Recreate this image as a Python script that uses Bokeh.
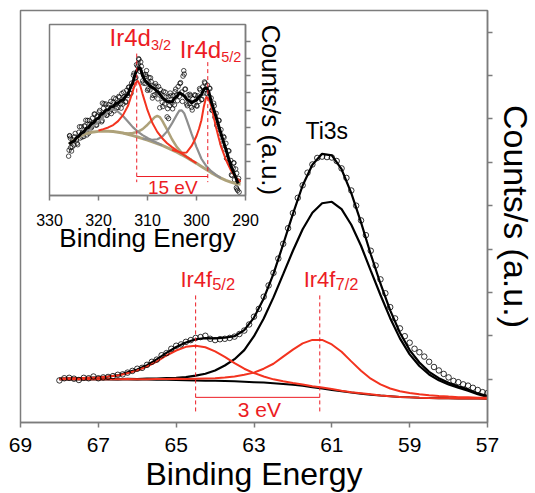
from bokeh.plotting import figure
from bokeh.models import Range1d, FixedTicker
from bokeh.embed import file_html
from bokeh.resources import INLINE
from bokeh.core.properties import value

FONT = "Liberation Sans"
AXIS_GRAY = "#7c7c7c"
RED = "#f3331f"
TEXT_RED = "#ec1c24"
KHAKI = "#aea27a"
GRAY = "#8e8e8e"

# ---------------- main chart data (Ir4f / Ti3s region) ----------------
main_xticks = [69, 67, 65, 63, 61, 59, 57]
main_yticks = [1, 2, 3, 4, 5, 6, 7, 8, 9]

main_x = [68.0, 67.75, 67.5, 67.25, 67.0, 66.75, 66.5, 66.25, 66.0, 65.75, 65.5, 65.25,
          65.0, 64.75, 64.5, 64.25, 64.0, 63.75, 63.5, 63.25, 63.0, 62.75, 62.5, 62.25,
          62.0, 61.75, 61.5, 61.25, 61.0, 60.75, 60.5, 60.25, 60.0, 59.75, 59.5, 59.25,
          59.0, 58.75, 58.5, 58.25, 58.0, 57.75, 57.5, 57.25, 57.0]
main_background = [1.00, 1.00, 1.00, 1.00, 1.00, 1.00, 0.995, 0.995, 0.99, 0.99, 0.985, 0.985,
                   0.98, 0.975, 0.97, 0.965, 0.96, 0.955, 0.95, 0.94, 0.93, 0.92, 0.905, 0.89,
                   0.87, 0.845, 0.815, 0.785, 0.75, 0.72, 0.69, 0.665, 0.64, 0.62, 0.605, 0.59,
                   0.58, 0.573, 0.567, 0.562, 0.558, 0.555, 0.553, 0.551, 0.55]
main_ti3s = [1.00, 1.00, 1.00, 1.00, 1.00, 1.00, 0.995, 1.005, 1.00, 1.01, 1.015, 1.025,
             1.03, 1.045, 1.08, 1.125, 1.20, 1.315, 1.46, 1.67, 1.99, 2.40, 2.885, 3.42,
             3.96, 4.455, 4.835, 5.055, 5.09, 4.92, 4.56, 4.075, 3.50, 2.94, 2.405, 1.94,
             1.57, 1.303, 1.107, 0.972, 0.878, 0.805, 0.733, 0.651, 0.59]
main_ir4f72 = [1.00, 1.00, 1.00, 1.00, 1.00, 1.00, 0.995, 1.005, 1.00, 1.00, 1.005, 1.005,
               1.01, 1.005, 1.01, 1.015, 1.02, 1.035, 1.06, 1.10, 1.15, 1.24, 1.355, 1.52,
               1.68, 1.825, 1.905, 1.905, 1.80, 1.63, 1.41, 1.195, 1.01, 0.88, 0.785, 0.72,
               0.68, 0.653, 0.627, 0.612, 0.598, 0.585, 0.583, 0.571, 0.57]
main_ir4f52 = [1.01, 1.02, 1.02, 1.03, 1.04, 1.06, 1.085, 1.135, 1.20, 1.29, 1.405, 1.545,
               1.66, 1.745, 1.77, 1.735, 1.64, 1.515, 1.37, 1.24, 1.14, 1.06, 0.995, 0.95,
               0.91, 0.875, 0.835, 0.805, 0.77, 0.73, 0.70, 0.675, 0.65, 0.62, 0.605, 0.59,
               0.58, 0.573, 0.567, 0.562, 0.558, 0.555, 0.553, 0.551, 0.55]
main_envelope = [1.01, 1.02, 1.02, 1.03, 1.04, 1.06, 1.085, 1.155, 1.22, 1.32, 1.455, 1.605,
                 1.74, 1.845, 1.92, 1.945, 1.94, 1.955, 1.99, 2.13, 2.42, 2.86, 3.425, 4.11,
                 4.81, 5.465, 5.945, 6.195, 6.16, 5.84, 5.29, 4.615, 3.88, 3.20, 2.585, 2.07,
                 1.67, 1.383, 1.167, 1.022, 0.918, 0.835, 0.763, 0.671, 0.61]

main_pts_x = [68.0, 67.875, 67.75, 67.625, 67.5, 67.375, 67.25, 67.125, 67.0, 66.875,
              66.75, 66.625, 66.5, 66.375, 66.25, 66.125, 66.0, 65.875, 65.75, 65.625,
              65.5, 65.375, 65.25, 65.125, 65.0, 64.875, 64.75, 64.625, 64.5, 64.375,
              64.25, 64.125, 64.0, 63.875, 63.75, 63.625, 63.5, 63.375, 63.25, 63.125,
              63.0, 62.875, 62.75, 62.625, 62.5, 62.375, 62.25, 62.125, 62.0, 61.875,
              61.75, 61.625, 61.5, 61.375, 61.25, 61.125, 61.0, 60.875, 60.75, 60.625,
              60.5, 60.375, 60.25, 60.125, 60.0, 59.875, 59.75, 59.625, 59.5, 59.375,
              59.25, 59.125, 59.0, 58.875, 58.75, 58.625, 58.5, 58.375, 58.25, 58.125,
              58.0, 57.875, 57.75, 57.625, 57.5, 57.375, 57.25, 57.125, 57.0]
main_pts_y = [0.97, 1.02, 1.03, 1.01, 0.98, 1.03, 1.02, 1.06, 1.02, 1.04,
              1.05, 1.07, 1.10, 1.11, 1.15, 1.19, 1.24, 1.26, 1.33, 1.40,
              1.45, 1.55, 1.60, 1.70, 1.77, 1.80, 1.86, 1.90, 1.95, 1.97,
              2.00, 1.93, 1.90, 1.92, 1.93, 1.95, 1.98, 2.04, 2.12, 2.26,
              2.44, 2.62, 2.90, 3.16, 3.45, 3.78, 4.12, 4.48, 4.83, 5.18,
              5.47, 5.76, 5.95, 6.10, 6.13, 6.12, 6.11, 6.03, 5.86, 5.64,
              5.35, 5.00, 4.66, 4.32, 3.96, 3.62, 3.30, 2.98, 2.66, 2.40,
              2.17, 1.99, 1.84, 1.70, 1.62, 1.52, 1.40, 1.28, 1.20, 1.12,
              1.04, 0.96, 0.93, 0.88, 0.85, 0.80, 0.75, 0.70, 0.68]

main_peak_pos = [64.5, 61.31]          # Ir4f5/2, Ir4f7/2
main_peak_names = ["Ir4f", "Ir4f"]
main_peak_subs = ["5/2", "7/2"]

# ---------------- inset data (Ir4d region) ----------------
inset_xticks = [330, 320, 310, 300, 290]
inset_yticks = [1, 2, 3, 4, 5, 6, 7, 8, 9]

inset_bg_x = [326, 325, 324, 323, 322, 321, 320, 319, 318, 317, 316, 315, 314, 313, 312, 311,
              310, 309, 308, 307, 306, 305, 304, 303, 302, 301, 300, 299, 298, 297, 296, 295,
              294, 293, 292, 291]
inset_bg = [3.0, 3.25, 3.45, 3.58, 3.66, 3.72, 3.75, 3.76, 3.76, 3.74, 3.70, 3.65, 3.58, 3.50,
            3.42, 3.33, 3.24, 3.14, 3.04, 2.93, 2.80, 2.67, 2.53, 2.38, 2.22, 2.05, 1.88, 1.70,
            1.52, 1.34, 1.17, 1.02, 0.89, 0.78, 0.70, 0.66]

inset_gray1_x = [325, 324, 323, 322, 321, 320, 319, 318, 317.5, 317, 316, 315, 314, 313, 312,
                 311, 310, 309, 308, 307]
inset_gray1 = [3.27, 3.50, 3.68, 3.86, 4.07, 4.30, 4.61, 4.91, 5.0, 5.04, 4.90, 4.65, 4.33,
               4.00, 3.74, 3.53, 3.36, 3.20, 3.07, 2.94]

inset_gray2_x = [311, 310, 309, 308, 307, 306, 305, 304, 303.5, 303, 302.5, 302, 301, 300,
                 299, 298, 297, 296, 295]
inset_gray2 = [3.33, 3.29, 3.26, 3.29, 3.43, 3.75, 4.22, 4.73, 4.96, 4.98, 4.80, 4.42, 3.60,
               2.83, 2.15, 1.72, 1.42, 1.20, 1.02]

inset_khaki_x = [315, 314, 313, 312, 311, 310, 309, 308.5, 308, 307.5, 307, 306, 305, 304,
                 303, 302, 301]
inset_khaki = [3.65, 3.63, 3.65, 3.72, 3.88, 4.14, 4.44, 4.59, 4.66, 4.59, 4.38, 3.85, 3.29,
               2.83, 2.50, 2.27, 2.07]

inset_ir4d32_x = [320, 319, 318, 317, 316, 315, 314, 313, 312.5, 312, 311.5, 311, 310, 309,
                  308, 307, 306, 305, 304, 303, 302, 301, 300]
inset_ir4d32 = [3.80, 3.88, 3.98, 4.12, 4.35, 4.70, 5.23, 6.10, 6.56, 6.72, 6.43, 5.93, 4.99,
                4.24, 3.72, 3.35, 3.06, 2.83, 2.63, 2.44, 2.26, 2.07, 1.89]

inset_ir4d52_x = [305, 304, 303, 302, 301, 300.5, 300, 299.5, 299, 298.5, 298, 297.5, 297,
                  296.5, 296, 295.5, 295, 294, 293, 292, 291]
inset_ir4d52 = [2.67, 2.58, 2.50, 2.52, 2.90, 3.17, 3.48, 3.89, 4.40, 5.21, 5.77, 5.63, 5.24,
                4.61, 3.97, 3.40, 2.87, 2.09, 1.48, 1.05, 0.81]

inset_smooth_x = [326.0, 325.5, 325.0, 324.5, 324.0, 323.5, 323.0, 322.5, 322.0, 321.5,
                  321.0, 320.5, 320.0, 319.5, 319.0, 318.5, 318.0, 317.5, 317.0, 316.5,
                  316.0, 315.5, 315.0, 314.5, 314.0, 313.5, 313.0, 312.5, 312.0, 311.5,
                  311.0, 310.5, 310.0, 309.5, 309.0, 308.5, 308.0, 307.5, 307.0, 306.5,
                  306.0, 305.5, 305.0, 304.5, 304.0, 303.5, 303.0, 302.5, 302.0, 301.5,
                  301.0, 300.5, 300.0, 299.5, 299.0, 298.5, 298.0, 297.5, 297.0, 296.5,
                  296.0, 295.5, 295.0, 294.5, 294.0, 293.5, 293.0, 292.5, 292.0, 291.5]
inset_smooth = [3.0, 3.12, 3.18, 3.38, 3.48, 3.65, 3.72, 3.92, 3.98, 4.2,
                4.26, 4.45, 4.52, 4.74, 4.82, 4.98, 5.02, 5.18, 5.2, 5.38,
                5.4, 5.55, 5.58, 5.8, 5.92, 6.3, 6.6, 7.12, 7.42, 7.48,
                7.0, 6.72, 6.58, 6.4, 6.32, 6.22, 6.08, 5.95, 5.72, 5.62,
                5.48, 5.5, 5.46, 5.7, 5.78, 6.02, 5.92, 5.82, 5.62, 5.55,
                5.42, 5.52, 5.58, 5.78, 5.88, 6.22, 6.3, 6.08, 5.5, 5.05,
                4.6, 4.1, 3.6, 3.15, 2.7, 2.22, 1.75, 1.4, 1.05, 0.7]

inset_pts_x = [326.0, 325.75, 325.5, 325.25, 325.0, 324.75, 324.5, 324.25,
               324.0, 323.75, 323.5, 323.25, 323.0, 322.75, 322.5, 322.25,
               322.0, 321.75, 321.5, 321.25, 321.0, 320.75, 320.5, 320.25,
               320.0, 319.75, 319.5, 319.25, 319.0, 318.75, 318.5, 318.25,
               318.0, 317.75, 317.5, 317.25, 317.0, 316.75, 316.5, 316.25,
               316.0, 315.75, 315.5, 315.25, 315.0, 314.75, 314.5, 314.25,
               314.0, 313.75, 313.5, 313.25, 313.0, 312.75, 312.5, 312.25,
               312.0, 311.75, 311.5, 311.25, 311.0, 310.75, 310.5, 310.25,
               310.0, 309.75, 309.5, 309.25, 309.0, 308.75, 308.5, 308.25,
               308.0, 307.75, 307.5, 307.25, 307.0, 306.75, 306.5, 306.25,
               306.0, 305.75, 305.5, 305.25, 305.0, 304.75, 304.5, 304.25,
               304.0, 303.75, 303.5, 303.25, 303.0, 302.75, 302.5, 302.25,
               302.0, 301.75, 301.5, 301.25, 301.0, 300.75, 300.5, 300.25,
               300.0, 299.75, 299.5, 299.25, 299.0, 298.75, 298.5, 298.25,
               298.0, 297.75, 297.5, 297.25, 297.0, 296.75, 296.5, 296.25,
               296.0, 295.75, 295.5, 295.25, 295.0, 294.75, 294.5, 294.25,
               294.0, 293.75, 293.5, 293.25, 293.0, 292.75, 292.5, 292.25,
               292.0, 291.75, 291.5,
               326.1, 325.9, 325.7, 322.6, 319.2, 311.8, 310.2, 309.7, 305.7, 302.6,
               292.4, 291.8, 291.6, 291.4, 291.3]
inset_pts_y = [2.65, 3.35, 2.6, 3.25, 2.95, 3.63, 3.25, 2.97,
               3.7, 3.36, 4.02, 3.69, 3.45, 4.06, 3.73, 4.39,
               3.65, 4.18, 3.95, 4.52, 4.25, 4.76, 4.12, 4.64,
               4.35, 4.97, 4.7, 4.38, 5.1, 4.75, 5.35, 4.7,
               5.15, 4.9, 5.5, 5.1, 5.45, 4.95, 5.65, 5.4,
               5.15, 5.74, 5.38, 5.96, 5.35, 5.78, 5.46, 6.15,
               5.85, 6.35, 5.96, 6.57, 6.4, 7.15, 6.85, 7.65,
               7.55, 7.95, 7.25, 7.55, 6.7, 7.05, 6.55, 6.97,
               6.15, 6.58, 6.17, 6.66, 5.7, 6.4, 5.9, 6.4,
               6.0, 6.37, 5.13, 5.94, 5.45, 6.08, 5.35, 5.75,
               4.6, 5.77, 5.26, 5.83, 5.4, 5.82, 5.3, 6.22,
               5.9, 6.37, 5.8, 6.6, 6.05, 6.98, 7.1, 6.22,
               5.35, 5.88, 5.37, 5.83, 5.15, 5.66, 5.3, 5.85,
               5.25, 5.83, 5.5, 6.17, 5.6, 6.35, 6.0, 6.58,
               6.2, 6.45, 5.8, 6.25, 5.7, 4.98, 5.4, 4.58,
               4.8, 4.05, 4.4, 3.65, 3.85, 3.02, 3.45, 2.72,
               3.05, 2.16, 2.62, 1.89, 2.05, 1.17, 1.6, 0.92,
               1.55, 0.38, 0.85,
               2.3, 3.5, 2.8, 4.4, 5.4, 8.0, 7.3, 6.9, 4.5, 7.3,
               1.9, 1.3, 0.3, 1.0, 0.2]

inset_pts2_x = [325.875, 325.375, 324.875, 324.375, 323.875, 323.375, 322.875, 322.375,
                321.875, 321.375, 320.875, 320.375, 319.875, 319.375, 318.875, 318.375,
                317.875, 317.375, 316.875, 316.375, 315.875, 315.375, 314.875, 314.375,
                313.875, 313.375, 312.875, 312.375, 311.875, 311.375, 310.875, 310.375,
                309.875, 309.375, 308.875, 308.375, 307.875, 307.375, 306.875, 306.375,
                305.875, 305.375, 304.875, 304.375, 303.875, 303.375, 302.875, 302.375,
                301.875, 301.375, 300.875, 300.375, 299.875, 299.375, 298.875, 298.375,
                297.875, 297.375, 296.875, 296.375, 295.875, 295.375, 294.875, 294.375,
                293.875, 293.375, 292.875, 292.375, 291.875]
inset_pts2_y = [3.48, 2.84, 3.43, 3.06, 4.02, 3.42, 4.07, 3.54,
                4.39, 4.02, 4.76, 4.12, 4.88, 4.31, 5.36, 4.69,
                5.31, 4.79, 5.70, 5.09, 5.79, 5.11, 6.04, 5.48,
                6.32, 5.98, 7.03, 6.9, 7.69, 7.81, 6.58, 7.08,
                6.24, 6.88, 5.85, 6.54, 5.65, 6.19, 5.2, 6.04,
                5.08, 5.99, 5.07, 6.07, 5.54, 6.55, 5.5, 6.22,
                5.25, 5.92, 5.0, 5.89, 5.23, 6.25, 5.62, 6.64,
                5.95, 6.28, 4.99, 5.24, 4.13, 4.38, 3.19, 3.39,
                2.18, 2.6, 1.21, 1.91, 0.46]

inset_peak_pos = [312.2, 297.7]        # Ir4d3/2, Ir4d5/2
inset_peak_names = ["Ir4d", "Ir4d"]
inset_peak_subs = ["3/2", "5/2"]

for a, b in [(main_x, main_background), (main_x, main_ti3s), (main_x, main_ir4f72),
             (main_x, main_ir4f52), (main_x, main_envelope), (main_pts_x, main_pts_y),
             (inset_bg_x, inset_bg), (inset_gray1_x, inset_gray1), (inset_gray2_x, inset_gray2),
             (inset_khaki_x, inset_khaki), (inset_ir4d32_x, inset_ir4d32),
             (inset_ir4d52_x, inset_ir4d52), (inset_smooth_x, inset_smooth),
             (inset_pts_x, inset_pts_y), (inset_pts2_x, inset_pts2_y)]:
    assert len(a) == len(b), (len(a), len(b))


def style_axes(fig, xticks, yticks, tick_fs, label_fs, tick_len, xlabel_standoff,
               xaxis_label_standoff, yaxis_label_standoff):
    fig.xgrid.grid_line_color = None
    fig.ygrid.grid_line_color = None
    fig.outline_line_color = AXIS_GRAY
    fig.outline_line_width = 1.5
    fig.outline_line_alpha = 1.0
    xa = fig.xaxis[0]
    ya = fig.yaxis[0]
    for ax in (xa, ya):
        ax.axis_line_color = AXIS_GRAY
        ax.axis_line_width = 1.5
        ax.major_tick_line_color = AXIS_GRAY
        ax.major_tick_line_width = 1.5
        ax.major_tick_out = tick_len
        ax.major_tick_in = 0
        ax.minor_tick_line_color = None
        ax.axis_label_text_font = FONT
        ax.axis_label_text_font_style = "normal"
        ax.axis_label_text_color = "black"
        ax.axis_label_text_font_size = label_fs
        ax.major_label_text_font = FONT
        ax.major_label_text_color = "black"
    xa.ticker = FixedTicker(ticks=xticks)
    ya.ticker = FixedTicker(ticks=yticks)
    xa.major_label_text_font_size = tick_fs
    xa.major_label_standoff = xlabel_standoff
    xa.axis_label_standoff = xaxis_label_standoff
    ya.major_label_overrides = {t: "" for t in yticks}
    ya.major_label_text_font_size = "1px"
    ya.major_label_standoff = 0
    ya.axis_label_standoff = yaxis_label_standoff


def label(fig, x, y, text, size, color, align="center"):
    fig.text(x=x, y=y, text=text, text_align=align, text_baseline="middle",
             text_font=value(FONT), text_font_size=size, text_color=color)


# ---------------- main figure ----------------
p = figure(frame_width=467, frame_height=412, x_range=Range1d(69, 57), y_range=Range1d(0, 9.5),
           y_axis_location="right", output_backend="svg", toolbar_location=None,
           min_border_left=20, min_border_top=10, min_border_right=48, min_border_bottom=71)
p.xaxis.axis_label = "Binding Energy"
p.yaxis.axis_label = "Counts/s (a.u.)"
style_axes(p, main_xticks, main_yticks, "21px", "32px", 5, 10, 1, 5)
p.yaxis.axis_label_text_font_size = "34px"
p.yaxis.axis_label_standoff = 4
p.background_fill_color = "white"
p.border_fill_color = "white"

p.line(main_x, main_background, line_color="black", line_width=2)
p.line(main_x, main_ti3s, line_color="black", line_width=2.2)
p.line(main_x, main_envelope, line_color="black", line_width=2.2)
p.line(main_x, main_ir4f52, line_color=RED, line_width=2)
p.line(main_x, main_ir4f72, line_color=RED, line_width=2)
p.scatter(main_pts_x, main_pts_y, marker="circle", size=5.5, fill_color=None,
          line_color="black", line_width=0.8)

p.segment(x0=main_peak_pos, y0=[2.93, 2.93], x1=main_peak_pos, y1=[0.24, 0.24],
          line_color=TEXT_RED, line_width=1, line_dash="4 3")
p.segment(x0=[main_peak_pos[0]], y0=[0.58], x1=[main_peak_pos[1]], y1=[0.58],
          line_color=TEXT_RED, line_width=1)
label(p, [64.075, 60.907], [3.29, 3.29], main_peak_names, "22px", TEXT_RED, "right")
label(p, [64.075, 60.907], [3.19, 3.19], main_peak_subs, "16.5px", TEXT_RED, "left")
label(p, [61.13], [6.73], ["Ti3s"], "23px", "black")
label(p, [62.86], [0.30], ["3 eV"], "21px", TEXT_RED)

# ---------------- inset figure ----------------
ins = figure(frame_width=196, frame_height=171, x_range=Range1d(330, 290), y_range=Range1d(0, 10),
             y_axis_location="right", output_backend="svg", toolbar_location=None,
             min_border_left=49, min_border_top=24, min_border_right=40, min_border_bottom=60,
             styles={"position": "absolute", "left": "0px", "top": "0px"})
ins.xaxis.axis_label = "Binding Energy"
ins.yaxis.axis_label = "Counts/s (a.u.)"
style_axes(ins, inset_xticks, inset_yticks, "16px", "26px", 5, 13, -6, 5)
ins.background_fill_color = "white"
ins.border_fill_color = None

ins.scatter(inset_pts_x, inset_pts_y, marker="circle", size=4.5, fill_color=None,
            line_color="black", line_width=0.7)
ins.scatter(inset_pts2_x, inset_pts2_y, marker="circle", size=4.5, fill_color=None,
            line_color="black", line_width=0.7)
ins.line(inset_bg_x, inset_bg, line_color=KHAKI, line_width=3)
ins.line(inset_khaki_x, inset_khaki, line_color=KHAKI, line_width=2.5)
ins.line(inset_gray1_x, inset_gray1, line_color=GRAY, line_width=2.2)
ins.line(inset_gray2_x, inset_gray2, line_color=GRAY, line_width=2.2)
ins.line(inset_ir4d32_x, inset_ir4d32, line_color=RED, line_width=2)
ins.line(inset_ir4d52_x, inset_ir4d52, line_color=RED, line_width=2)
ins.line(inset_smooth_x, inset_smooth, line_color="black", line_width=3)

ins.segment(x0=inset_peak_pos, y0=[8.3, 7.8], x1=inset_peak_pos, y1=[0.78, 0.78],
            line_color=TEXT_RED, line_width=1, line_dash="4 3")
ins.segment(x0=[inset_peak_pos[0]], y0=[1.11], x1=[inset_peak_pos[1]], y1=[1.11],
            line_color=TEXT_RED, line_width=1)
label(ins, [309.3, 294.97], [9.26, 8.53], inset_peak_names, "24px", TEXT_RED, "right")
label(ins, [309.3, 294.97], [8.82, 8.09], inset_peak_subs, "14.5px", TEXT_RED, "left")
label(ins, [304.85], [0.49], ["15 eV"], "19px", TEXT_RED)

open("out.html", "w").write(file_html([p, ins], INLINE))
